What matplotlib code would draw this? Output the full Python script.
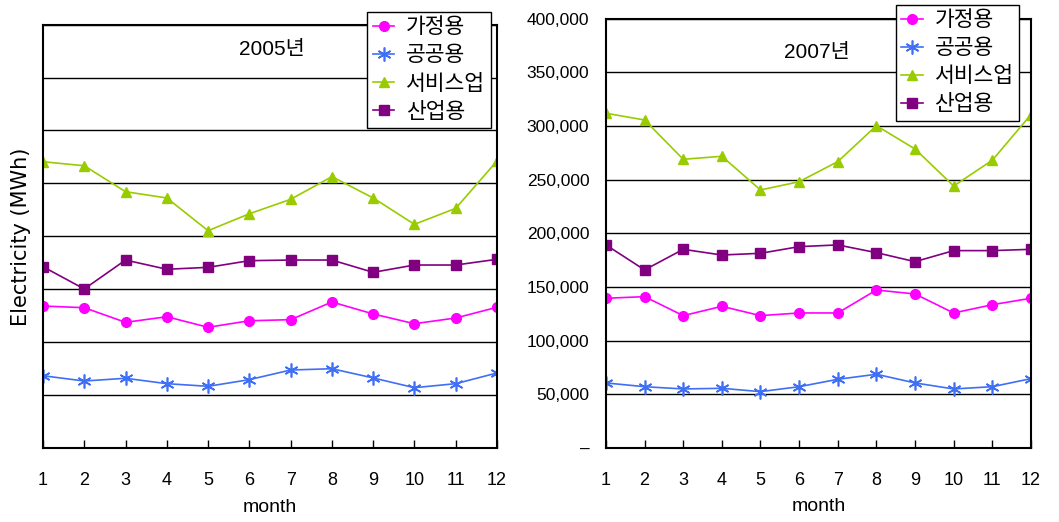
import matplotlib
matplotlib.use("Agg")
import matplotlib.pyplot as plt
from matplotlib.ticker import FuncFormatter

plt.rcParams['font.family'] = ['Liberation Sans', 'Noto Sans CJK KR', 'DejaVu Sans']

months = list(range(1, 13))
series_names = ['가정용', '공공용', '서비스업', '산업용']

# 2005
home_2005 = [134300, 132700, 118900, 124200, 114200, 120400, 121400, 138100, 126800, 117600, 123000, 133100]
public_2005 = [68500, 63500, 66100, 61000, 58500, 64800, 73900, 75100, 66400, 57200, 61000, 71100]
service_2005 = [270500, 266700, 242200, 236300, 205400, 221400, 235000, 256400, 236300, 211400, 226500, 271200]
industry_2005 = [171400, 150400, 177700, 169000, 170800, 177100, 177700, 177700, 166100, 173000, 173000, 178400]

# 2007
home_2007 = [139500, 141000, 123300, 132000, 123300, 125800, 125800, 147200, 143500, 125800, 133500, 139500]
public_2007 = [60600, 57100, 55000, 55600, 52500, 57100, 64000, 68700, 60600, 55000, 57100, 64600]
service_2007 = [311900, 305600, 269000, 271800, 240400, 248100, 266800, 300300, 278600, 244100, 268100, 310600]
industry_2007 = [189200, 165900, 185100, 179800, 181400, 187600, 189200, 182000, 173600, 183900, 183900, 185100]

y_ticks = [0, 50000, 100000, 150000, 200000, 250000, 300000, 350000, 400000]

styles = [
    dict(color='#FF00FF', marker='o', markersize=7),
    dict(color='#3F6FF5', marker=(6, 2, 0), markersize=10, markeredgewidth=1.2),
    dict(color='#99CC00', marker='^', markersize=7),
    dict(color='#800080', marker='s', markersize=6.5),
]


def fmt_thousands(v, pos):
    if v == 0:
        return '–'
    return f'{int(v):,}'


def draw_panel(ax, data, title, title_xy, show_labels):
    for vals, name, st in zip(data, series_names, styles):
        ax.plot(months, vals, lw=1.2, label=name, **st)
    ax.set_xlim(1, 12)
    ax.set_ylim(0, 400000)
    ax.set_xticks(months)
    ax.set_yticks(y_ticks)
    ax.yaxis.grid(True, color='black', lw=1)
    ax.set_axisbelow(True)
    for sp in ax.spines.values():
        sp.set_linewidth(1.5)
    ax.tick_params(axis='x', direction='in', length=6, width=1, pad=17, labelsize=13)
    ax.tick_params(axis='y', length=0, pad=12, labelsize=12.5)
    if show_labels:
        ax.yaxis.set_major_formatter(FuncFormatter(fmt_thousands))
    else:
        ax.set_yticklabels([])
    ax.set_xlabel('month', fontsize=14, labelpad=7)
    ax.text(title_xy[0], title_xy[1], title, transform=ax.transAxes,
            ha='center', va='center', fontsize=15)


fig = plt.figure(figsize=(10.59, 5.22), dpi=100)
ax1 = fig.add_axes([0.0406, 0.1412, 0.4287, 0.8118])
ax2 = fig.add_axes([0.5722, 0.1418, 0.4013, 0.8224])

draw_panel(ax1, [home_2005, public_2005, service_2005, industry_2005], '2005년', (0.504, 0.94), False)
draw_panel(ax2, [home_2007, public_2007, service_2007, industry_2007], '2007년', (0.496, 0.922), True)

for ax, anchor in [(ax1, (0.347, 0.977)), (ax2, (0.8458, 0.991))]:
    leg = ax.legend(loc='upper left', bbox_to_anchor=anchor, bbox_transform=fig.transFigure,
                    fontsize=15.5, frameon=True, fancybox=False, framealpha=1,
                    edgecolor='black', handlelength=1.0, handletextpad=0.55,
                    labelspacing=0.33, borderpad=0.25, borderaxespad=0)
    leg.get_frame().set_linewidth(1)

fig.text(21 / 1059, 1 - 237 / 522, 'Electricity (MWh)', rotation=90, ha='center', va='center',
         fontsize=15, family='DejaVu Sans')

fig.savefig('out.png', dpi=100)
